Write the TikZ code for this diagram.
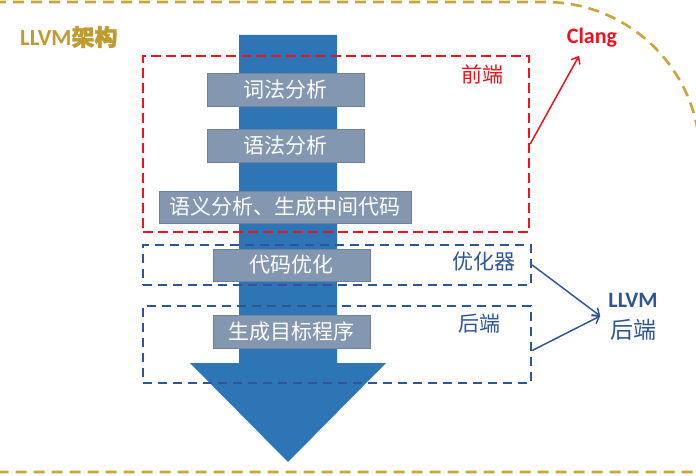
\documentclass[tikz,border=0pt]{standalone}
\usepackage{fontspec}
\setmainfont{Carlito}
\newfontfamily\cjk{Noto Sans CJK SC}
\newfontfamily\cjkbold{Noto Sans CJK SC}[FakeBold=1.5]
\usetikzlibrary{arrows.meta,positioning}
\definecolor{flowblue}{HTML}{2E75B6}
\definecolor{stepgray}{HTML}{8497B0}
\definecolor{stepedge}{HTML}{6F819D}
\definecolor{llvmgold}{HTML}{BF9A2F}
\definecolor{framegold}{HTML}{C8A63C}
\definecolor{backblue}{HTML}{2F5597}
\definecolor{clangred}{HTML}{F0101E}

\tikzset{
  stepbox/.style={draw=stepedge,fill=stepgray,text=white,line width=0.8,
    font=\cjk\fontsize{21}{23}\selectfont,minimum width=157,minimum height=33,inner sep=0},
  phasebox/.style={line width=2.4,dash pattern=on 9pt off 6pt,inner sep=0},
  phaselabel/.style={font=\cjk\fontsize{21}{23}\selectfont,inner sep=0},
  pointer/.style={line width=1.5,-{Straight Barb[length=6pt,width=10pt]}}
}

\begin{document}
\begin{tikzpicture}[x=1pt,y=-1pt]
\useasboundingbox (0,0) rectangle (696,476);
% outer frame
\draw[framegold,line width=2.6,dash pattern=on 11pt off 7pt]
  (-5,2) -- (545,2) arc[start angle=90,end angle=0,radius=155pt] -- (700,472) -- (-5,472);
\node[llvmgold,anchor=west,inner sep=0] (title) at (20,37)
  {\fontsize{23}{25}\selectfont\bfseries LLVM{\cjkbold 架构}};
% flow arrow
\fill[flowblue] (239,35) -- (337,35) -- (337,363) -- (386,363) -- (288,462)
  -- (190,363) -- (239,363) -- cycle;
% steps
\node[stepbox] (lex) at (285.5,90) {词法分析};
\node[stepbox] (syn) at (285.5,146) {语法分析};
\node[stepbox,minimum width=252,minimum height=32] (sem) at (285,207) {语义分析、生成中间代码};
\node[stepbox,minimum height=32] (opt) at (291.5,265) {代码优化};
\node[stepbox] (gen) at (291.5,331.5) {生成目标程序};
% phases
\node[phasebox,draw=clangred,dash pattern=on 10pt off 5pt,
  minimum width=386,minimum height=176] (front) at (336,144) {};
\node[phasebox,draw=backblue,minimum width=388,minimum height=40] (mid) at (337,265) {};
\node[phasebox,draw=backblue,minimum width=388,minimum height=77] (back) at (337,344.5) {};
\node[phaselabel,clangred] (frontlabel) at (482,74) {前端};
\node[phaselabel,backblue] (midlabel) at (484,262) {优化器};
\node[phaselabel,backblue] (backlabel) at (479,324) {后端};
% right side
\node[clangred,font=\bfseries\fontsize{22}{24}\selectfont,inner sep=0] (clang) at (592,38) {Clang};
\node[backblue,align=center,inner sep=0,font=\fontsize{22}{31}\selectfont] (llvm) at (633,317)
  {\bfseries LLVM\\{\cjk\fontsize{23}{31}\selectfont 后端}};
\draw[pointer,clangred] (front.east) -- ([xshift=-13pt,yshift=-8pt]clang.south);
\draw[pointer,backblue] (mid.east) -- ([xshift=-8pt,yshift=1pt]llvm.west);
\draw[pointer,backblue] ([yshift=-6pt]back.east) -- ([xshift=-8pt,yshift=1pt]llvm.west);
\end{tikzpicture}
\end{document}
